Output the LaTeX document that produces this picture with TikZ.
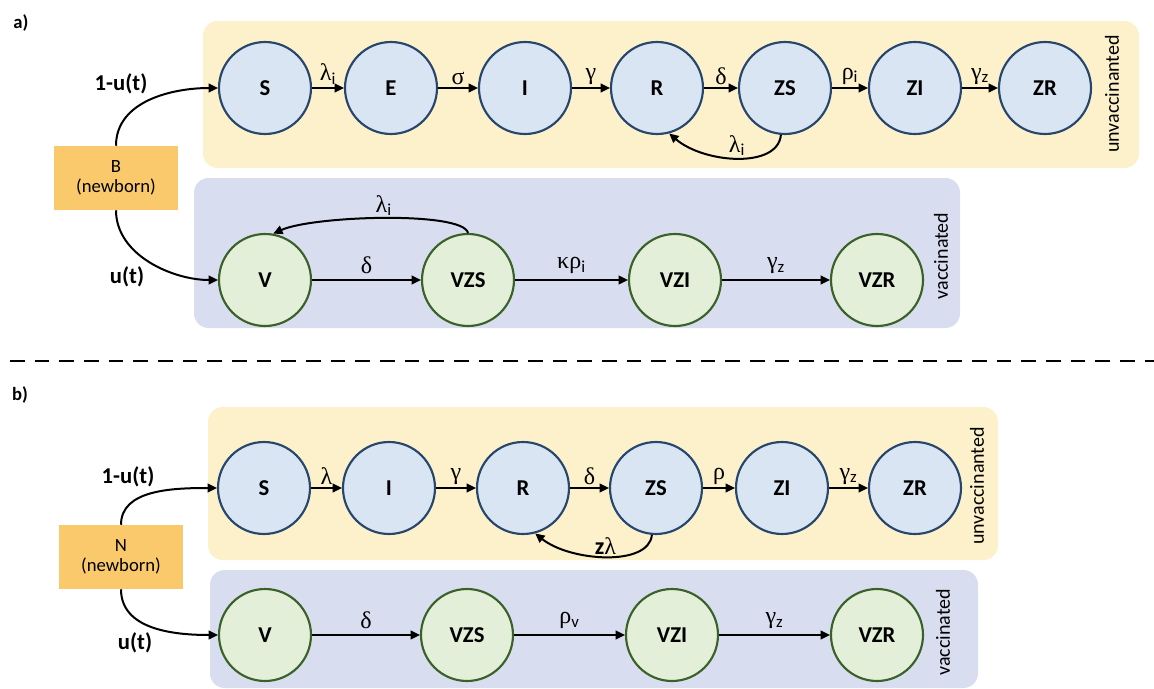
\documentclass[tikz,border=0pt]{standalone}
\usepackage{fontspec}
\setmainfont{Carlito}
\newfontfamily\grk{Liberation Serif}
\usetikzlibrary{arrows.meta}
\definecolor{ybox}{RGB}{253,241,204}
\definecolor{bbox}{RGB}{216,222,240}
\definecolor{cfill}{RGB}{218,229,244}
\definecolor{cdraw}{RGB}{38,70,108}
\definecolor{gfill}{RGB}{227,239,217}
\definecolor{gdraw}{RGB}{58,98,40}
\definecolor{nbox}{RGB}{249,201,108}
\newcommand{\sbs}[1]{$_{\mathrm{#1}}$}
\begin{document}
\begin{tikzpicture}[x=0.75pt,y=-0.75pt,
  ucirc/.style={circle,draw=cdraw,fill=cfill,line width=1.6pt,minimum size=69pt,inner sep=0pt,font=\fontsize{17}{19}\selectfont\bfseries},
  vcirc/.style={ucirc,draw=gdraw,fill=gfill},
  nb/.style={fill=nbox,minimum width=93pt,minimum height=48pt,align=center,inner sep=0pt,font=\fontsize{14}{15}\selectfont},
  arr/.style={-{Triangle[length=7pt,width=6.5pt]},line width=1.5pt},
  lab/.style={font=\fontsize{18}{20}\selectfont\grk,inner sep=1pt},
  ulab/.style={font=\fontsize{17}{19}\selectfont\bfseries,inner sep=0pt},
  side/.style={rotate=90,font=\fontsize{15}{17}\selectfont,inner sep=0pt},
  grp/.style={rounded corners=11pt},
  panel/.style={font=\fontsize{14}{16}\selectfont\bfseries,inner sep=0pt}]
\useasboundingbox (0,0) rectangle (1154,689);

% ---------- group backgrounds ----------
\fill[ybox,grp] (203,21) rectangle (1139,168);
\fill[bbox,grp] (194,178) rectangle (960,328);
\fill[ybox,grp] (208,407) rectangle (998,560);
\fill[bbox,grp] (210,570) rectangle (978,688);

% ---------- panel labels and separator ----------
\node[panel] (pa) at (21,23) {a)};
\node[panel] (pb) at (20,395) {b)};
\draw[line width=2.2pt,dash pattern=on 11pt off 7.5pt] (10,361) -- (1154,361);

% ---------- panel a ----------
\node[ucirc] (aS)  at (265,88)  {S};
\node[ucirc] (aE)  at (391,88)  {E};
\node[ucirc] (aI)  at (525,88)  {I};
\node[ucirc] (aR)  at (657,88)  {R};
\node[ucirc] (aZS) at (785,88)  {ZS};
\node[ucirc] (aZI) at (915,88)  {ZI};
\node[ucirc] (aZR) at (1045,88) {ZR};
\node[vcirc] (aV)   at (265,280) {V};
\node[vcirc] (aVZS) at (468,280) {VZS};
\node[vcirc] (aVZI) at (675,280) {VZI};
\node[vcirc] (aVZR) at (877,280) {VZR};
\node[nb] (aB) at (116,178) {B\\(newborn)};

\draw[arr] (aS) -- node[lab,above=1pt] {λ\sbs{i}} (aE);
\draw[arr] (aE) -- node[lab,above=1pt] {σ} (aI);
\draw[arr] (aI) -- node[lab,above=1pt] {γ} (aR);
\draw[arr] (aR) -- node[lab,above=1pt] {δ} (aZS);
\draw[arr] (aZS) -- node[lab,above=1pt] {ρ\sbs{i}} (aZI);
\draw[arr] (aZI) -- node[lab,above=1pt] {γ\sbs{z}} (aZR);
\draw[arr] (aZS.-95) .. controls +(-3,34) and +(35,30) .. node[lab,above=0pt] {λ\sbs{i}} (aR.-75);

\draw[arr] (aV) -- node[lab,above=3pt] {δ} (aVZS);
\draw[arr] (aVZS) -- node[lab,above=3pt] {κρ\sbs{i}} (aVZI);
\draw[arr] (aVZI) -- node[lab,above=3pt] {γ\sbs{z}} (aVZR);
\draw[arr] (aVZS.north) .. controls +(-5,-22) and +(40,-18) .. node[lab,above=0pt] {λ\sbs{i}} (aV.80);

\draw[arr] (aB.north) .. controls +(0,-45) and +(-45,0) .. (aS.west);
\draw[arr] (aB.south) .. controls +(0,45) and +(-45,0) .. (aV.west);
\node[ulab] (au1) at (121,84) {1-u(t)};
\node[ulab] (au2) at (127,277) {u(t)};

\node[side] (aun) at (1112,94) {unvaccinanted};
\node[side] (ava) at (941,256) {vaccinated};

% ---------- panel b ----------
\node[ucirc] (bS)  at (264,488) {S};
\node[ucirc] (bI)  at (389,488) {I};
\node[ucirc] (bR)  at (523,488) {R};
\node[ucirc] (bZS) at (656,488) {ZS};
\node[ucirc] (bZI) at (782,488) {ZI};
\node[ucirc] (bZR) at (915,488) {ZR};
\node[vcirc] (bV)   at (265,635) {V};
\node[vcirc] (bVZS) at (467,635) {VZS};
\node[vcirc] (bVZI) at (672,635) {VZI};
\node[vcirc] (bVZR) at (877,635) {VZR};
\node[nb] (bN) at (121,557) {N\\(newborn)};

\draw[arr] (bS) -- node[lab,above=1pt] {λ} (bI);
\draw[arr] (bI) -- node[lab,above=1pt] {γ} (bR);
\draw[arr] (bR) -- node[lab,above=1pt] {δ} (bZS);
\draw[arr] (bZS) -- node[lab,above=1pt] {ρ} (bZI);
\draw[arr] (bZI) -- node[lab,above=1pt] {γ\sbs{z}} (bZR);
\draw[arr] (bZS.-95) .. controls +(-3,32) and +(35,28) .. node[lab,above=0pt] {{\fontspec{Carlito}\bfseries z}λ} (bR.-75);

\draw[arr] (bV) -- node[lab,above=3pt] {δ} (bVZS);
\draw[arr] (bVZS) -- node[lab,above=3pt] {ρ\sbs{v}} (bVZI);
\draw[arr] (bVZI) -- node[lab,above=3pt] {γ\sbs{z}} (bVZR);

\draw[arr] (bN.north) .. controls +(0,-35) and +(-45,0) .. (bS.west);
\draw[arr] (bN.south) .. controls +(0,40) and +(-45,0) .. (bV.west);
\node[ulab] (bu1) at (128,477) {1-u(t)};
\node[ulab] (bu2) at (135,643) {u(t)};

\node[side] (bun) at (977,486) {unvaccinanted};
\node[side] (bva) at (943,632) {vaccinated};
\end{tikzpicture}
\end{document}
